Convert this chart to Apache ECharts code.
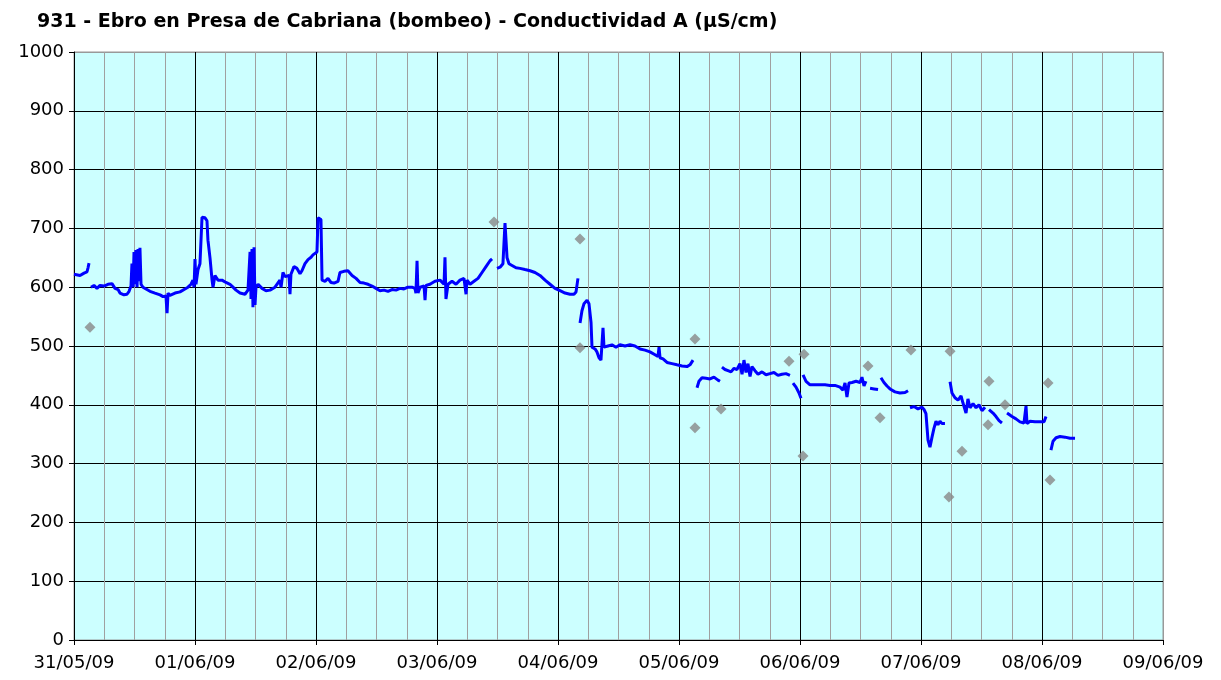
<!DOCTYPE html>
<html>
<head>
<meta charset="utf-8">
<script src="https://cdn.jsdelivr.net/npm/echarts@6/dist/echarts.min.js"></script>
<style>
  html, body { margin: 0; padding: 0; background: #fff; }
  #chart { width: 1221px; height: 680px; }
</style>
</head>
<body>
<div id="chart"></div>
<script>
const titleText = '931 - Ebro en Presa de Cabriana (bombeo) - Conductividad A (µS/cm)'
const dayLabels = ['31/05/09', '01/06/09', '02/06/09', '03/06/09', '04/06/09', '05/06/09', '06/06/09', '07/06/09', '08/06/09', '09/06/09']

// continuous record, days since 31/05/09 00:00 ; null = gap in the record
const lineDays = [
  0.000, 0.050, 0.083, 0.107, 0.116, 0.124, null,
  0.140, 0.165, 0.190, 0.215, 0.248, 0.281, 0.314, 0.339, 0.364, 0.380,
  0.413, 0.438, 0.455, 0.471, 0.479, 0.488, 0.496, 0.504, 0.512, 0.521,
  0.529, 0.537, 0.545, 0.554, 0.570, 0.595, 0.628, 0.669, 0.711, 0.736,
  0.760, 0.769, 0.777, 0.793, 0.835, 0.876, 0.917, 0.942, 0.967, 0.983,
  0.992, 1.000, 1.008, 1.025, 1.041, 1.058, 1.083, 1.099, 1.107, 1.124,
  1.141, 1.149, 1.165, 1.190, 1.223, 1.256, 1.289, 1.314, 1.339, 1.372,
  1.413, 1.438, 1.455, 1.463, 1.471, 1.479, 1.488, 1.496, 1.504, 1.521,
  1.554, 1.587, 1.620, 1.661, 1.702, 1.711, 1.727, 1.744, 1.760, 1.777,
  1.785, 1.793, 1.818, 1.843, 1.868, 1.884, 1.909, 1.934, 1.959, 1.975,
  2.008, 2.017, 2.041, 2.050, 2.074, 2.099, 2.124, 2.149, 2.182, 2.198,
  2.231, 2.264, 2.298, 2.331, 2.364, 2.397, 2.430, 2.463, 2.496, 2.529,
  2.562, 2.595, 2.628, 2.661, 2.694, 2.727, 2.760, 2.793, 2.818, 2.826,
  2.835, 2.843, 2.860, 2.893, 2.901, 2.909, 2.942, 2.983, 3.025, 3.058,
  3.066, 3.074, 3.091, 3.124, 3.157, 3.190, 3.223, 3.240, 3.248, 3.273,
  3.306, 3.339, 3.372, 3.405, 3.438, 3.455, null,
  3.496, 3.521, 3.545, 3.562, 3.579, 3.595, 3.620, 3.653, 3.686, 3.727,
  3.769, 3.810, 3.851, 3.893, 3.934, 3.975, 4.017, 4.058, 4.099, 4.132,
  4.149, 4.165, null,
  4.182, 4.198, 4.215, 4.240, 4.256, 4.273, 4.281, 4.306, 4.322, 4.339,
  4.355, 4.372, 4.380, 4.413, 4.446, 4.479, 4.512, 4.554, 4.595, 4.636,
  4.678, 4.719, 4.760, 4.802, 4.826, 4.835, 4.843, 4.868, 4.901, 4.942,
  4.983, 5.025, 5.066, 5.091, 5.116, null,
  5.149, 5.165, 5.190, 5.223, 5.256, 5.289, 5.322, 5.339, null,
  5.355, 5.380, 5.405, 5.430, 5.455, 5.479, 5.504, 5.521, 5.537, 5.554,
  5.570, 5.587, 5.603, 5.628, 5.653, 5.686, 5.719, 5.752, 5.785, 5.818,
  5.851, 5.884, 5.917, null,
  5.942, 5.967, 5.992, 6.008, null,
  6.025, 6.050, 6.083, 6.124, 6.165, 6.207, 6.248, 6.289, 6.331, 6.355,
  6.372, 6.388, 6.405, 6.430, 6.463, 6.496, 6.512, 6.529, 6.545, null,
  6.579, 6.612, 6.645, null,
  6.669, 6.694, 6.719, 6.744, 6.785, 6.826, 6.868, 6.893, null,
  6.909, 6.942, 6.975, 7.008, 7.025, 7.041, 7.058, 7.074, 7.091, 7.107,
  7.124, 7.140, 7.157, 7.174, 7.198, null,
  7.240, 7.256, 7.281, 7.306, 7.331, 7.347, 7.372, 7.388, 7.405, 7.430,
  7.455, 7.479, 7.504, 7.529, null,
  7.562, 7.595, 7.620, 7.645, 7.669, null,
  7.711, 7.752, 7.785, 7.818, 7.851, 7.868, 7.876, 7.901, 7.942, 7.983,
  8.017, 8.033, null,
  8.074, 8.091, 8.116, 8.149, 8.190, 8.231, 8.273
]
const lineValues = [
  622, 620, 624, 626, 633, 641, null,
  600, 603, 598, 603, 602, 605, 606, 598, 596, 590,
  587, 588, 593, 602, 640, 600, 660, 605, 663, 600,
  665, 610, 667, 605, 600, 597, 593, 590, 587, 584,
  585, 556, 590, 586, 590, 592, 597, 600, 605, 612,
  600, 648, 605, 630, 640, 719, 718, 713, 680, 650,
  612, 600, 620, 612, 612, 608, 605, 600, 595, 590,
  588, 595, 660, 580, 665, 566, 668, 570, 600, 605,
  598, 594, 595, 600, 612, 600, 625, 618, 615, 620,
  588, 622, 635, 632, 623, 628, 640, 647, 651, 655,
  660, 718, 715, 612, 610, 615, 608, 607, 610, 625,
  627, 628, 620, 615, 608, 607, 605, 602, 598, 594,
  595, 593, 596, 595, 598, 597, 600, 600, 598, 590,
  645, 590, 600, 602, 578, 603, 605, 610, 612, 605,
  651, 580, 605, 610, 605, 612, 615, 588, 612, 605,
  610, 615, 625, 635, 645, 648, null,
  632, 634, 640, 709, 650, 640, 637, 633, 632, 630,
  628, 625, 620, 612, 605, 598, 594, 590, 588, 588,
  592, 615, null,
  539, 560, 572, 578, 572, 540, 498, 495, 490, 480,
  476, 531, 498, 500, 502, 498, 502, 500, 502, 500,
  495, 493, 490, 485, 482, 498, 480, 478, 472, 470,
  468, 466, 465, 468, 476, null,
  429, 440, 446, 445, 444, 447, 442, 440, null,
  464, 460, 458, 456, 462, 460, 470, 452, 476, 455,
  470, 448, 465, 458, 452, 456, 451, 453, 455, 450,
  452, 453, 450, null,
  437, 430, 420, 411, null,
  451, 440, 434, 434, 434, 434, 433, 433, 430, 425,
  437, 413, 437, 438, 440, 438, 447, 432, 440, null,
  428, 427, 426, null,
  446, 438, 432, 427, 422, 420, 421, 424, null,
  395, 397, 393, 396, 392, 385, 340, 328, 345, 360,
  372, 366, 372, 368, 368, null,
  439, 420, 412, 408, 415, 403, 386, 410, 395, 402,
  395, 400, 390, 396, null,
  392, 386, 380, 373, 369, null,
  386, 380, 376, 371, 369, 398, 368, 372, 371, 371,
  371, 380, null,
  323, 338, 344, 346, 345, 343, 343
]

// laboratory samples
const sampleDays = [0.132, 3.471, 4.182, 4.182, 5.132, 5.132, 5.347, 5.909, 6.033, 6.025, 6.562, 6.661, 6.917, 7.231, 7.240, 7.339, 7.562, 7.554, 7.694, 8.050, 8.066]
const sampleValues = [532, 711, 682, 497, 512, 361, 393, 474, 486, 313, 466, 378, 493, 243, 491, 321, 440, 366, 400, 437, 272]

const lineData = lineDays.map((d, i) => (d === null ? [null, null] : [d, lineValues[i]]))
const sampleData = sampleDays.map((d, i) => [d, sampleValues[i]])

const chart = echarts.init(document.getElementById('chart'))
const xSplitColors = dayLabels.map((l, i) => (i === dayLabels.length - 1 ? '#999999' : '#000000'))
const ySplitColors = []
for (let i = 0; i <= 10; i++) ySplitColors.push(i === 10 ? '#999999' : '#000000')

chart.setOption({
  animation: false,
  backgroundColor: '#ffffff',
  textStyle: { fontFamily: 'DejaVu Sans' },
  title: {
    text: titleText,
    left: 32,
    top: 8,
    textStyle: { fontFamily: 'DejaVu Sans', fontSize: 19, fontWeight: 'bold', color: '#000' }
  },
  grid: {
    left: 74, top: 52, right: 58, bottom: 40,
    show: true,
    backgroundColor: '#ccffff',
    borderColor: '#999999',
    borderWidth: 1
  },
  xAxis: {
    type: 'value',
    min: 0,
    max: 9,
    interval: 1,
    axisLine: { lineStyle: { color: '#000', width: 1 } },
    axisTick: { show: true, length: 5, lineStyle: { color: '#000' } },
    axisLabel: {
      color: '#000',
      fontSize: 18,
      margin: 14,
      formatter: v => dayLabels[Math.round(v)] || ''
    },
    splitLine: { show: true, lineStyle: { color: xSplitColors, width: 1 } },
    minorTick: { show: false, splitNumber: 4 },
    minorSplitLine: { show: true, lineStyle: { color: '#a0a0a0', width: 1 } }
  },
  yAxis: {
    type: 'value',
    min: 0,
    max: 1000,
    interval: 100,
    axisLine: { show: true, lineStyle: { color: '#000', width: 1 } },
    axisTick: { show: true, length: 5, lineStyle: { color: '#000' } },
    axisLabel: { color: '#000', fontSize: 18, margin: 10, formatter: v => String(v) },
    splitLine: { show: true, lineStyle: { color: ySplitColors, width: 1 } }
  },
  series: [
    {
      name: 'Conductividad',
      type: 'line',
      data: lineData,
      showSymbol: false,
      symbol: 'none',
      connectNulls: false,
      lineStyle: { color: '#0000ff', width: 3 },
      z: 3
    },
    {
      name: 'Muestras',
      type: 'scatter',
      data: sampleData,
      symbol: 'diamond',
      symbolSize: 11,
      itemStyle: { color: '#888888' },
      z: 2
    }
  ]
})
window.addEventListener('resize', () => {
  chart.resize()
})
</script>
</body>
</html>
